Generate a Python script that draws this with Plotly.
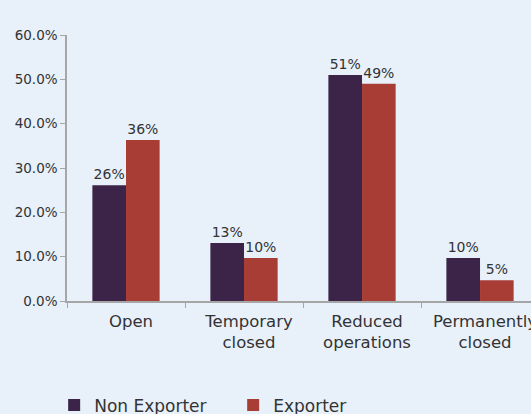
import plotly.graph_objects as go

categories = ["Open", "Temporary<br>closed", "Reduced<br>operations", "Permanently<br>closed"]
non_exporter = [0.261, 0.131, 0.510, 0.097]
exporter = [0.363, 0.097, 0.490, 0.047]
y_ticks = [0, 0.1, 0.2, 0.3, 0.4, 0.5, 0.6]

BG = "#e8f0fa"
FONT = "DejaVu Sans"
TXT = "#333333"

fig = go.Figure()
fig.add_trace(go.Bar(
    name="Non Exporter", x=categories, y=non_exporter,
    marker_color="#3b2448", marker_line_width=0,
    texttemplate="%{y:.0%}", textposition="outside",
    textfont=dict(family=FONT, size=14, color=TXT), cliponaxis=False,
))
fig.add_trace(go.Bar(
    name="Exporter", x=categories, y=exporter,
    marker_color="#a83d36", marker_line_width=0,
    texttemplate="%{y:.0%}", textposition="outside",
    textfont=dict(family=FONT, size=14, color=TXT), cliponaxis=False,
))

fig.update_layout(
    width=531, height=414,
    paper_bgcolor=BG, plot_bgcolor=BG,
    margin=dict(l=67, r=0, t=35, b=113, autoexpand=False),
    barmode="group", bargap=0.43, bargroupgap=0,
    font=dict(family=FONT, color=TXT),
    showlegend=True,
    legend=dict(
        orientation="h", xref="container", yref="paper",
        x=0.102, y=-0.393, xanchor="left", yanchor="middle",
        font=dict(family=FONT, size=17, color=TXT),
        entrywidth=134, entrywidthmode="pixels",
        itemwidth=30, bgcolor="rgba(0,0,0,0)",
    ),
    uniformtext=dict(mode=False),
)
fig.update_xaxes(
    range=[-0.5, 3.432],
    showline=True, linecolor="#a6a6a6", linewidth=1.5,
    ticks="outside", tickson="boundaries", ticklen=5, tickcolor="#a6a6a6",
    tickfont=dict(family=FONT, size=16.5, color=TXT),
    ticklabelstandoff=4, ticklabelshift=5, tickangle=0, automargin=False,
    showgrid=False, zeroline=False,
)
fig.update_yaxes(
    range=[0, 0.6], tickvals=y_ticks, tickformat=".1%",
    showline=True, linecolor="#a6a6a6", linewidth=1.5,
    ticks="outside", ticklen=5, tickcolor="#a6a6a6",
    tickfont=dict(family=FONT, size=13.5, color=TXT),
    automargin=False,
    showgrid=False, zeroline=False,
)

fig.write_html("out.html")
